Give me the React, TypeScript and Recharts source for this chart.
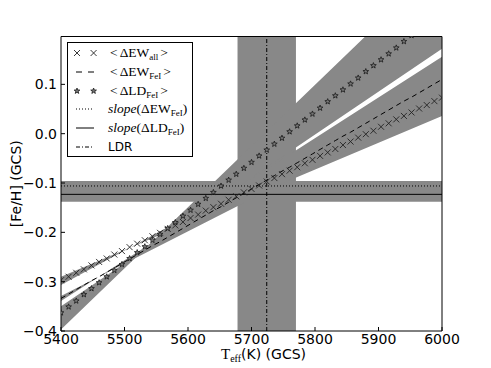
import React from "react";
import {
  ComposedChart,
  Line,
  Area,
  XAxis,
  YAxis,
  ReferenceArea,
  ReferenceLine,
} from "recharts";

// Teff grid (K, GCS scale)
const teff = [
  5400, 5412, 5424, 5436, 5448, 5460, 5472, 5484, 5496, 5508, 5520, 5532, 5544,
  5556, 5568, 5580, 5592, 5604, 5616, 5628, 5640, 5652, 5664, 5676, 5688, 5700,
  5712, 5724, 5736, 5748, 5760, 5772, 5784, 5796, 5808, 5820, 5832, 5844, 5856,
  5868, 5880, 5892, 5904, 5916, 5928, 5940, 5952, 5964, 5976, 5988, 6000,
];

// <dEW_all> (x markers)
const ewAll = [
  -0.297, -0.29, -0.282, -0.275, -0.267, -0.26, -0.253, -0.245, -0.238, -0.23,
  -0.223, -0.216, -0.208, -0.201, -0.193, -0.186, -0.179, -0.171, -0.164, -0.156,
  -0.149, -0.142, -0.134, -0.127, -0.119, -0.112, -0.105, -0.097, -0.09, -0.082,
  -0.075, -0.068, -0.06, -0.053, -0.045, -0.038, -0.031, -0.023, -0.016, -0.008,
  -0.001, 0.006, 0.014, 0.021, 0.029, 0.036, 0.043, 0.051, 0.058, 0.066, 0.073,
];

// <dEW_FeI> (dashed)
const ewFe = [
  -0.334, -0.325, -0.316, -0.307, -0.298, -0.29, -0.281, -0.272, -0.263, -0.254,
  -0.245, -0.236, -0.227, -0.219, -0.21, -0.201, -0.192, -0.183, -0.174, -0.165,
  -0.156, -0.148, -0.139, -0.13, -0.121, -0.112, -0.103, -0.094, -0.085, -0.076,
  -0.068, -0.059, -0.05, -0.041, -0.032, -0.023, -0.014, -0.005, 0.003, 0.012,
  0.021, 0.03, 0.039, 0.048, 0.057, 0.066, 0.074, 0.083, 0.092, 0.101, 0.11,
];

// <dLD_FeI> (stars)
const ldFe = [
  -0.363, -0.351, -0.339, -0.326, -0.314, -0.302, -0.29, -0.277, -0.265, -0.253,
  -0.241, -0.229, -0.216, -0.204, -0.192, -0.18, -0.167, -0.155, -0.143, -0.131,
  -0.119, -0.106, -0.094, -0.082, -0.07, -0.058, -0.045, -0.033, -0.021, -0.009,
  0.004, 0.016, 0.028, 0.04, 0.052, 0.065, 0.077, 0.089, 0.101, 0.113, 0.126,
  0.138, 0.15, 0.162, 0.174, 0.187, 0.199, 0.211, 0.223, 0.235, 0.248,
];

// error bands, edges read at both ends of the Teff range
const bandTeff = [5400, 6000];
const ewAllBandA = [-0.29, 0.036];
const ewAllBandB = [-0.307, 0.112];
const ewFeBandA = [-0.329, 0.064];
const ewFeBandB = [-0.339, 0.156];
const ldFeBandA = [-0.397, 0.347];
const ldFeBandB = [-0.35, 0.172];

const ldrTeff = 5724;
const ldrErr = 46;
const slopeEw = -0.106;
const slopeEwErr = 0.01;
const slopeLd = -0.123;
const slopeLdErr = 0.015;

const xTicks = [5400, 5500, 5600, 5700, 5800, 5900, 6000];
const yTicks = [-0.4, -0.3, -0.2, -0.1, 0.0, 0.1];
const yMax = 0.197;

const GRAY = "#888888";
const SANS = "DejaVu Sans";
const SERIF = "Liberation Serif";

const data = teff.map((t, i) => ({ t, ewAll: ewAll[i], ewFe: ewFe[i], ldFe: ldFe[i] }));
const band = (a: number[], b: number[]) => bandTeff.map((t, i) => ({ t, r: [a[i], b[i]] }));

const fmtY = (v: number) => (v < 0 ? "\u2212" : "") + Math.abs(v).toFixed(1);

function XMark({ cx, cy, size = 3 }: { cx?: number; cy?: number; size?: number }) {
  if (cx == null || cy == null) return null;
  const s = size;
  return (
    <path
      d={`M${cx - s},${cy - s}L${cx + s},${cy + s}M${cx - s},${cy + s}L${cx + s},${cy - s}`}
      stroke="#222"
      strokeWidth={0.9}
      fill="none"
    />
  );
}

function StarMark({ cx, cy, r = 3 }: { cx?: number; cy?: number; r?: number }) {
  if (cx == null || cy == null) return null;
  const pts: string[] = [];
  for (let k = 0; k < 10; k++) {
    const rad = k % 2 === 0 ? r : r * 0.42;
    const a = -Math.PI / 2 + (k * Math.PI) / 5;
    pts.push(`${cx + rad * Math.cos(a)},${cy + rad * Math.sin(a)}`);
  }
  return <polygon points={pts.join(" ")} fill="#777" stroke="#1a1a1a" strokeWidth={0.8} />;
}

function XLabel(props: any) {
  const vb = props.viewBox || {};
  return (
    <text
      x={vb.x + vb.width / 2 + 12}
      y={vb.y + 28}
      textAnchor="middle"
      fontSize={14}
      fontFamily={SANS}
      fill="#000"
    >
      <tspan fontFamily={SERIF} fontSize={15}>T</tspan>
      <tspan fontFamily={SERIF} fontSize={10} dy={3}>eff</tspan>
      <tspan dy={-3}>(K) (GCS)</tspan>
    </text>
  );
}

function YLabel(props: any) {
  const vb = props.viewBox || {};
  const x = vb.x + 16;
  const y = vb.y + vb.height / 2;
  return (
    <text
      x={x}
      y={y}
      transform={`rotate(-90 ${x} ${y})`}
      textAnchor="middle"
      dominantBaseline="central"
      fontSize={14}
      fontFamily={SANS}
      fill="#000"
    >
      [Fe/H] (GCS)
    </text>
  );
}

function LegendRow({ sym, children }: { sym: React.ReactNode; children: React.ReactNode }) {
  return (
    <div style={{ height: 18.7, display: "flex", alignItems: "center" }}>
      <svg width={30} height={18} style={{ marginLeft: 6, marginRight: 4, flex: "none" }}>
        {sym}
      </svg>
      <div style={{ fontFamily: SERIF, fontSize: 13.5, whiteSpace: "nowrap", lineHeight: "18px" }}>
        {children}
      </div>
    </div>
  );
}

const sub = (s: string) => (
  <sub style={{ fontSize: 9, verticalAlign: "-3px", lineHeight: 0 }}>{s}</sub>
);
const rel = (s: string) => <span style={{ margin: "0 2px" }}>{s}</span>;

function ChartLegend() {
  return (
    <div
      style={{
        position: "absolute",
        left: 67,
        top: 42,
        width: 124,
        height: 112,
        border: "1px solid #000",
        background: "#fff",
        paddingTop: 1,
        boxSizing: "content-box",
      }}
    >
      <LegendRow sym={<><XMark cx={3} cy={9} /><XMark cx={19.6} cy={9} /></>}>
        {rel("<")}{"\u0394EW"}{sub("all")}{rel(">")}
      </LegendRow>
      <LegendRow sym={<line x1={2} x2={20} y1={9} y2={9} stroke="#000" strokeDasharray="6 6" />}>
        {rel("<")}{"\u0394EW"}{sub("FeI")}{rel(">")}
      </LegendRow>
      <LegendRow sym={<><StarMark cx={3} cy={9} /><StarMark cx={19.6} cy={9} /></>}>
        {rel("<")}{"\u0394LD"}{sub("FeI")}{rel(">")}
      </LegendRow>
      <LegendRow sym={<line x1={2} x2={20} y1={9} y2={9} stroke="#000" strokeDasharray="1 2" />}>
        <i>slope</i>{"(\u0394EW"}{sub("FeI")}{")"}
      </LegendRow>
      <LegendRow sym={<line x1={2} x2={20} y1={9} y2={9} stroke="#000" />}>
        <i>slope</i>{"(\u0394LD"}{sub("FeI")}{")"}
      </LegendRow>
      <LegendRow sym={<line x1={2} x2={20} y1={9} y2={9} stroke="#000" strokeDasharray="4 2 1 2" />}>
        <span style={{ fontFamily: SANS, fontSize: 12 }}>LDR</span>
      </LegendRow>
    </div>
  );
}

const tickStyle = { fontSize: 14, fill: "#000", fontFamily: SANS };

export default function App() {
  return (
    <div style={{ position: "absolute", left: 0, top: 0, width: 491, height: 368, background: "#fff" }}>
      <ComposedChart width={491} height={368} data={data} margin={{ top: 0, right: 0, bottom: 0, left: 0 }}>
        <XAxis
          dataKey="t"
          type="number"
          domain={[5400, 6000]}
          ticks={xTicks}
          allowDataOverflow
          height={37}
          tick={tickStyle}
          tickSize={-4}
          tickMargin={7}
          axisLine={{ stroke: "#000" }}
          tickLine={{ stroke: "#000" }}
          label={<XLabel />}
        />
        <XAxis
          xAxisId="top"
          orientation="top"
          dataKey="t"
          type="number"
          domain={[5400, 6000]}
          ticks={xTicks}
          allowDataOverflow
          height={36.5}
          tick={false}
          tickSize={-4}
          axisLine={{ stroke: "#000" }}
          tickLine={{ stroke: "#000" }}
        />
        <YAxis
          type="number"
          domain={[-0.4, yMax]}
          ticks={yTicks}
          allowDataOverflow
          width={61}
          tick={tickStyle}
          tickFormatter={fmtY}
          tickSize={-4}
          tickMargin={8}
          axisLine={{ stroke: "#000" }}
          tickLine={{ stroke: "#000" }}
          label={<YLabel />}
        />
        <YAxis
          yAxisId="r"
          orientation="right"
          type="number"
          domain={[-0.4, yMax]}
          ticks={yTicks}
          allowDataOverflow
          width={49}
          tick={false}
          tickSize={-4}
          axisLine={{ stroke: "#000" }}
          tickLine={{ stroke: "#000" }}
        />

        <ReferenceArea x1={ldrTeff - ldrErr} x2={ldrTeff + ldrErr} fill={GRAY} fillOpacity={1} stroke="none" />
        <ReferenceArea y1={slopeEw - slopeEwErr} y2={slopeEw + slopeEwErr} fill={GRAY} fillOpacity={1} stroke="none" />
        <ReferenceArea y1={slopeLd - slopeLdErr} y2={slopeLd + slopeLdErr} fill={GRAY} fillOpacity={1} stroke="none" />

        <Area data={band(ewAllBandA, ewAllBandB)} dataKey="r" type="linear" stroke="none" fill={GRAY} fillOpacity={1} dot={false} activeDot={false} isAnimationActive={false} />
        <Area data={band(ewFeBandA, ewFeBandB)} dataKey="r" type="linear" stroke="none" fill={GRAY} fillOpacity={1} dot={false} activeDot={false} isAnimationActive={false} />
        <Area data={band(ldFeBandA, ldFeBandB)} dataKey="r" type="linear" stroke="none" fill={GRAY} fillOpacity={1} dot={false} activeDot={false} isAnimationActive={false} />

        <ReferenceLine y={slopeEw} stroke="#000" strokeDasharray="1 2" />
        <ReferenceLine y={slopeLd} stroke="#000" />
        <ReferenceLine x={ldrTeff} stroke="#000" strokeDasharray="4 2 1 2" />

        <Line
          dataKey="ewFe"
          type="linear"
          stroke="#000"
          strokeWidth={1}
          strokeDasharray="5 4"
          dot={false}
          activeDot={false}
          isAnimationActive={false}
        />
        <Line
          dataKey="ewAll"
          type="linear"
          stroke="none"
          dot={(p: any) => <XMark key={`x${p.index}`} cx={p.cx} cy={p.cy} />}
          activeDot={false}
          isAnimationActive={false}
        />
        <Line
          dataKey="ldFe"
          type="linear"
          stroke="none"
          dot={(p: any) => <StarMark key={`s${p.index}`} cx={p.cx} cy={p.cy} />}
          activeDot={false}
          isAnimationActive={false}
        />
      </ComposedChart>
      <ChartLegend />
    </div>
  );
}
